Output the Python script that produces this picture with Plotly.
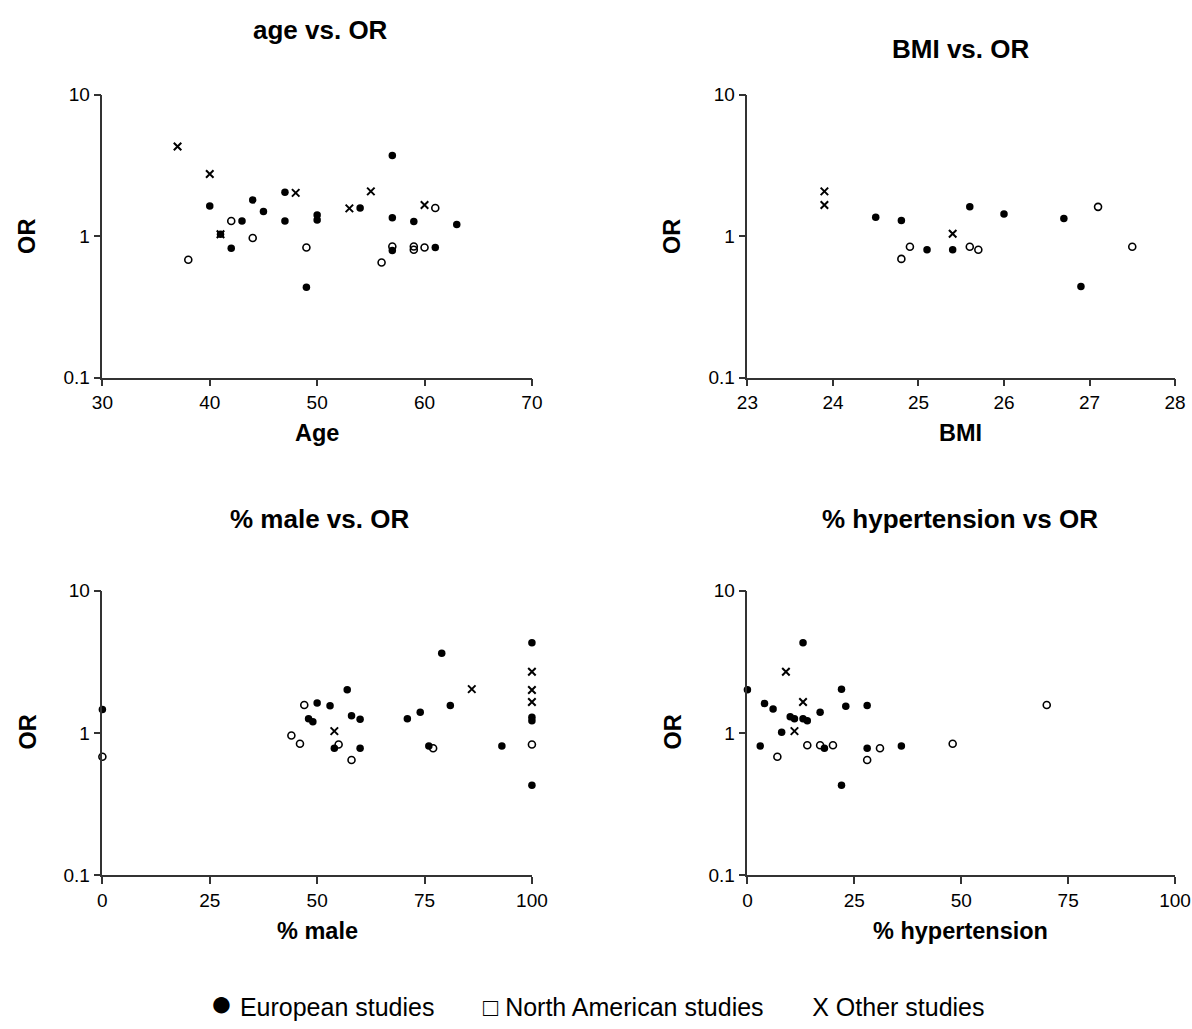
import plotly.graph_objects as go

# ---------------- data ----------------
eu_age = [40, 41, 42, 43, 44, 45, 47, 47, 49, 50, 50, 54, 57, 57, 57, 59, 61, 63]
eu_age_or = [1.63, 1.03, 0.82, 1.28, 1.80, 1.49, 2.04, 1.28, 0.435, 1.41, 1.30, 1.58, 3.71, 1.35, 0.79, 1.27, 0.83, 1.21]
na_age = [38, 42, 44, 49, 56, 57, 59, 59, 60, 61]
na_age_or = [0.68, 1.28, 0.97, 0.83, 0.65, 0.845, 0.845, 0.80, 0.83, 1.58]
ot_age = [37, 40, 41, 48, 53, 55, 60]
ot_age_or = [4.3, 2.75, 1.03, 2.02, 1.57, 2.07, 1.66]

eu_bmi = [24.5, 24.8, 25.1, 25.4, 25.6, 26.0, 26.7, 26.9]
eu_bmi_or = [1.36, 1.29, 0.80, 0.80, 1.61, 1.43, 1.33, 0.44]
na_bmi = [24.8, 24.9, 25.6, 25.7, 27.1, 27.5]
na_bmi_or = [0.69, 0.84, 0.84, 0.80, 1.61, 0.84]
ot_bmi = [23.9, 23.9, 25.4]
ot_bmi_or = [2.07, 1.66, 1.04]

eu_male = [0, 48, 49, 50, 53, 54, 57, 58, 60, 60, 71, 74, 76, 79, 81, 93, 100, 100, 100, 100]
eu_male_or = [1.46, 1.26, 1.20, 1.62, 1.55, 0.78, 2.01, 1.32, 1.25, 0.78, 1.26, 1.40, 0.81, 3.62, 1.56, 0.81, 4.3, 1.29, 1.22, 0.43]
na_male = [0, 44, 46, 47, 55, 58, 77, 100]
na_male_or = [0.68, 0.96, 0.84, 1.57, 0.83, 0.645, 0.78, 0.83]
ot_male = [54, 86, 100, 100, 100]
ot_male_or = [1.03, 2.03, 2.69, 2.0, 1.65]

eu_ht = [0, 3, 4, 6, 8, 10, 11, 13, 13, 14, 17, 18, 22, 22, 23, 28, 28, 36]
eu_ht_or = [2.01, 0.81, 1.61, 1.47, 1.01, 1.30, 1.26, 4.3, 1.26, 1.22, 1.40, 0.78, 2.03, 0.43, 1.54, 1.56, 0.78, 0.81]
na_ht = [7, 14, 17, 20, 28, 31, 48, 70]
na_ht_or = [0.68, 0.82, 0.82, 0.82, 0.645, 0.78, 0.84, 1.57]
ot_ht = [9, 11, 13]
ot_ht_or = [2.69, 1.03, 1.65]

y_ticks = [0.1, 1, 10]
y_tick_labels = ["0.1", "1", "10"]

panels = [
    ("x", "y", eu_age, eu_age_or, na_age, na_age_or, ot_age, ot_age_or),
    ("x2", "y2", eu_bmi, eu_bmi_or, na_bmi, na_bmi_or, ot_bmi, ot_bmi_or),
    ("x3", "y3", eu_male, eu_male_or, na_male, na_male_or, ot_male, ot_male_or),
    ("x4", "y4", eu_ht, eu_ht_or, na_ht, na_ht_or, ot_ht, ot_ht_or),
]

FONT = "Liberation Sans, Arial, sans-serif"
W, H = 1192, 1029

fig = go.Figure()
for xa, ya, ex, ey, nx, ny, ox, oy in panels:
    fig.add_trace(go.Scatter(x=ex, y=ey, xaxis=xa, yaxis=ya, mode="markers",
                             marker=dict(symbol="circle", size=7.5, color="black"),
                             cliponaxis=False, showlegend=False))
    fig.add_trace(go.Scatter(x=nx, y=ny, xaxis=xa, yaxis=ya, mode="markers",
                             marker=dict(symbol="circle-open", size=7, color="black",
                                         line=dict(width=1.6, color="black")),
                             cliponaxis=False, showlegend=False))
    fig.add_trace(go.Scatter(x=ox, y=oy, xaxis=xa, yaxis=ya, mode="markers",
                             marker=dict(symbol="x-thin", size=7.5, color="black",
                                         line=dict(width=2, color="black")),
                             cliponaxis=False, showlegend=False))

def px_x(p):
    return p / W

def px_y(p):
    return 1 - p / H

xl = [px_x(93.5), px_x(533)]
xr = [px_x(753.5), px_x(1191)]
yt = [px_y(375.2), px_y(86.4)]
yb = [px_y(883.4), px_y(592.6)]

common_axis = dict(showline=True, linecolor="#333333", linewidth=1.5, ticks="outside",
                   ticklen=7, tickwidth=1.5, tickcolor="#333333", showgrid=False,
                   zeroline=False, tickfont=dict(family=FONT, size=19, color="black"))

yax = dict(common_axis, type="log", range=[-1, 1], tickvals=y_ticks, ticktext=y_tick_labels)

fig.update_layout(
    width=W, height=H, margin=dict(l=0, r=0, t=0, b=0),
    plot_bgcolor="white", paper_bgcolor="white",
    xaxis=dict(common_axis, domain=xl, range=[30, 70], tickvals=[30, 40, 50, 60, 70], anchor="y"),
    yaxis=dict(yax, domain=yt, anchor="x"),
    xaxis2=dict(common_axis, domain=xr, range=[23, 28], tickvals=[23, 24, 25, 26, 27, 28], anchor="y2"),
    yaxis2=dict(yax, domain=yt, anchor="x2"),
    xaxis3=dict(common_axis, domain=xl, range=[0, 100], tickvals=[0, 25, 50, 75, 100], anchor="y3"),
    yaxis3=dict(yax, domain=yb, anchor="x3"),
    xaxis4=dict(common_axis, domain=xr, range=[0, 100], tickvals=[0, 25, 50, 75, 100], anchor="y4"),
    yaxis4=dict(yax, domain=yb, anchor="x4"),
)

def ann(text, x, y, size, bold=False, angle=0):
    fig.add_annotation(text=f"<b>{text}</b>" if bold else text, x=px_x(x), y=px_y(y),
                       xref="paper", yref="paper", showarrow=False, textangle=angle,
                       xanchor="center", yanchor="middle",
                       font=dict(family=FONT, size=size, color="black"))

# titles
ann("age vs. OR", 317, 20, 26, bold=True)
ann("BMI vs. OR", 971, 40, 26, bold=True)
ann("% male vs. OR", 316, 520, 26, bold=True)
ann("% hypertension vs OR", 971, 520, 26, bold=True)
# axis titles
ann("Age", 313, 432, 23.5, bold=True)
ann("BMI", 972, 432, 23.5, bold=True)
ann("% male", 314, 940, 23.5, bold=True)
ann("% hypertension", 971, 940, 23.5, bold=True)
for xx in (17, 677):
    ann("OR", xx, 231, 23.5, bold=True, angle=-90)
    ann("OR", xx, 737, 23.5, bold=True, angle=-90)

# legend
ann("<span style='font-size:38px'>●</span> European studies &nbsp;&nbsp;&nbsp;&nbsp;&nbsp; □ North American studies"
    " &nbsp;&nbsp;&nbsp;&nbsp;&nbsp; X Other studies",
    600, 1014, 25)

fig.write_html("out.html")
